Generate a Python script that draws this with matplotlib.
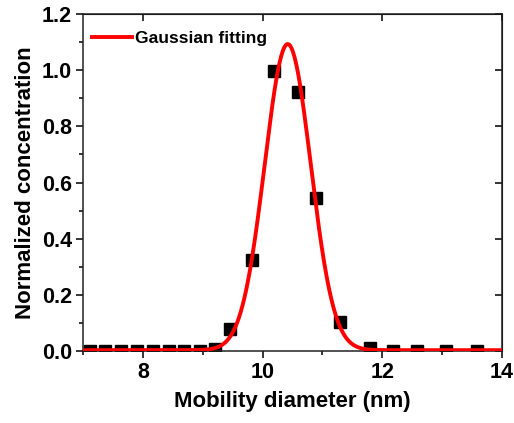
import numpy as np
import matplotlib.pyplot as plt
from matplotlib.ticker import MultipleLocator

diameter_nm = [7.11, 7.36, 7.63, 7.90, 8.17, 8.43, 8.69, 8.96, 9.20, 9.45,
               9.82, 10.19, 10.59, 10.89, 11.29, 11.79, 12.18, 12.58, 13.07, 13.58]
norm_conc = [0.0, 0.0, 0.0, 0.0, 0.0, 0.0, 0.0, 0.0, 0.006, 0.077,
             0.324, 0.997, 0.923, 0.544, 0.104, 0.010, 0.0, 0.0, 0.0, 0.0]

# Gaussian fit parameters
fit_amp = 1.09
fit_center = 10.42
fit_sigma = 0.385
fit_offset = 0.003

plt.rcParams["font.family"] = ["Liberation Sans", "DejaVu Sans"]
plt.rcParams["font.weight"] = "bold"

fig = plt.figure(figsize=(5.14, 4.23), dpi=100)
ax = fig.add_axes([0.1615, 0.1702, 0.8152, 0.7967])

xfit = np.linspace(7, 14, 500)
yfit = fit_offset + fit_amp * np.exp(-0.5 * ((xfit - fit_center) / fit_sigma) ** 2)

ax.plot(diameter_nm, norm_conc, ls="none", marker="s", ms=9, color="black",
        zorder=2)
ax.plot(xfit, yfit, color="#ff0000", lw=2.8, label="Gaussian fitting", zorder=3)

ax.set_xlim(7, 14)
ax.set_ylim(0, 1.2)
ax.xaxis.set_major_locator(MultipleLocator(2))
ax.xaxis.set_minor_locator(MultipleLocator(1))
ax.yaxis.set_major_locator(MultipleLocator(0.2))
ax.yaxis.set_minor_locator(MultipleLocator(0.1))
ax.yaxis.set_major_formatter(lambda v, p: f"{v:.1f}")

ax.tick_params(which="major", direction="out", length=5, width=1.1,
               labelsize=15.5, pad=3)
ax.tick_params(which="minor", direction="out", length=3, width=1.1)
for s in ax.spines.values():
    s.set_linewidth(1.1)
    s.set_color("#222222")

# inward major ticks on top and right
top = ax.secondary_xaxis("top")
top.xaxis.set_major_locator(MultipleLocator(2))
top.tick_params(direction="in", length=5, width=1.1, labeltop=False)
right = ax.secondary_yaxis("right")
right.yaxis.set_major_locator(MultipleLocator(0.2))
right.tick_params(direction="in", length=5, width=1.1, labelright=False)

ax.set_xlabel("Mobility diameter (nm)", fontsize=16, fontweight="bold",
              labelpad=6)
ax.set_ylabel("Normalized concentration", fontsize=16, fontweight="bold",
              labelpad=4)

ax.legend(loc="upper left", bbox_to_anchor=(0.0, 0.975), frameon=False,
          fontsize=12.5, handlelength=2.3, borderaxespad=0.1,
          handletextpad=0.2)

fig.savefig("out.png", dpi=100)
